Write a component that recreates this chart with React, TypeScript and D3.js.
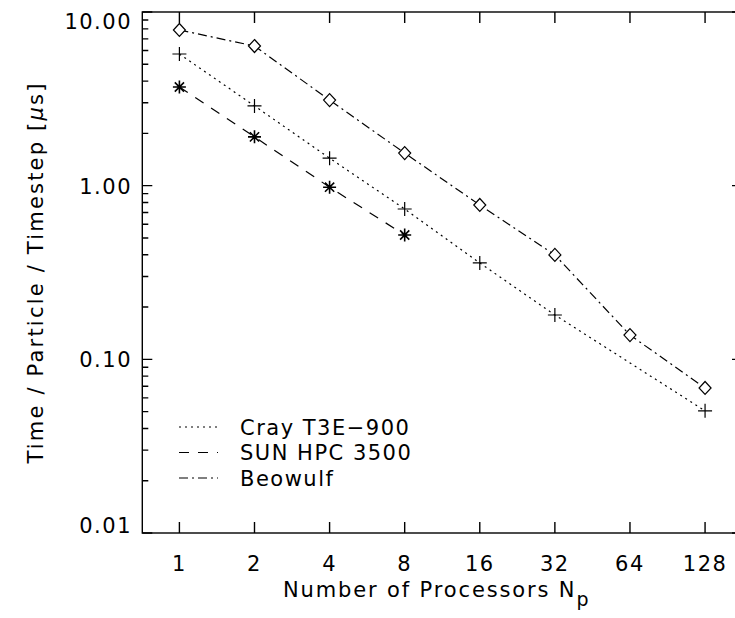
import React from 'react';
import * as d3 from 'd3';

const xTicks = [1, 2, 4, 8, 16, 32, 64, 128];
const yDecades = [0.01, 0.1, 1, 10];
const yLabels = ['0.01', '0.10', '1.00', '10.00'];

const crayNp = [1, 2, 4, 8, 16, 32, 128];
const crayTime = [5.73, 2.88, 1.44, 0.734, 0.359, 0.18, 0.0505];
const sunNp = [1, 2, 4, 8];
const sunTime = [3.7, 1.91, 0.98, 0.52];
const beoNp = [1, 2, 4, 8, 16, 32, 64, 128];
const beoTime = [7.88, 6.37, 3.11, 1.54, 0.774, 0.399, 0.138, 0.0684];

const legendNames = ['Cray T3E\u2212900', 'SUN HPC 3500', 'Beowulf'];
const dashes = ['2,4', '10,9', '9,4,2,4'];

const W = 735;
const H = 618;
const font = '"DejaVu Sans", sans-serif';

const App = () => {
  const x = d3.scaleLog().base(2).domain([0.71, 180]).range([142.3, 742]);
  const y = d3.scaleLog().domain([0.01, 10]).range([533, 12]);
  const [left, right] = x.range();
  const [bottom, top] = y.range();

  const line = d3.line<[number, number]>()
    .x(d => x(d[0]))
    .y(d => y(d[1]));

  const series = [
    { np: crayNp, t: crayTime, dash: dashes[0], mark: 'plus' },
    { np: sunNp, t: sunTime, dash: dashes[1], mark: 'star' },
    { np: beoNp, t: beoTime, dash: dashes[2], mark: 'diamond' },
  ];

  const minor = y.ticks().filter(v => !yDecades.some(d => Math.abs(v / d - 1) < 1e-6));

  const marker = (type, cx, cy, k) => {
    if (type === 'plus') {
      return <path key={k} d={`M${cx - 7},${cy}H${cx + 7}M${cx},${cy - 7}V${cy + 7}`} />;
    }
    if (type === 'star') {
      const r = 6.5;
      const q = 4.6;
      return (
        <path
          key={k}
          strokeWidth={1.6}
          d={`M${cx - r},${cy}H${cx + r}M${cx},${cy - r}V${cy + r}M${cx - q},${cy - q}L${cx + q},${cy + q}M${cx - q},${cy + q}L${cx + q},${cy - q}`}
        />
      );
    }
    return <path key={k} d={`M${cx},${cy - 6.5}L${cx + 6},${cy}L${cx},${cy + 6.5}L${cx - 6},${cy}Z`} fill="white" />;
  };

  return (
    <svg width={W} height={H} style={{ position: 'absolute', left: 0, top: 0, background: 'white' }}>
      <g fill="none" stroke="black" strokeWidth={1.4}>
        <rect x={left} y={top} width={right - left} height={bottom - top} />
        {xTicks.map(t => (
          <path key={t} d={`M${x(t)},${bottom}v-11M${x(t)},${top}v11`} />
        ))}
        {yDecades.map(t => (
          <path key={t} d={`M${left},${y(t)}h10M${right},${y(t)}h-10`} />
        ))}
        {minor.map((t, i) => (
          <path key={i} d={`M${left},${y(t)}h6M${right},${y(t)}h-6`} />
        ))}
      </g>

      <g fill="none" stroke="black" strokeWidth={1.2}>
        {series.map((s, i) => (
          <path key={i} d={line(s.np.map((n, j) => [n, s.t[j]]))} strokeDasharray={s.dash} />
        ))}
        {series.map((s, i) => s.np.map((n, j) => marker(s.mark, x(n), y(s.t[j]), `${i}-${j}`)))}
      </g>

      <g fontFamily={font} fontSize={21} fill="black" letterSpacing={1.5}>
        {xTicks.map(t => (
          <text key={t} x={x(t)} y={571} textAnchor="middle">{t}</text>
        ))}
        {yDecades.map((t, i) => {
          let dy = 8;
          if (i === 0) dy = -0.5;
          if (i === yDecades.length - 1) dy = 16.5;
          return (
            <text key={t} x={132} y={y(t) + dy} textAnchor="end">{yLabels[i]}</text>
          );
        })}
        <text x={283} y={597} textLength={307} lengthAdjust="spacing">
          Number of Processors N<tspan dy={9} fontSize={19}>p</tspan>
        </text>
        <text transform={`translate(43,${(top + bottom) / 2 + 0}) rotate(-90)`} textAnchor="middle" letterSpacing={2.2}>
          {'Time / Particle / Timestep ['}<tspan fontStyle="italic">{'\u03bc'}</tspan>{'s]'}
        </text>
      </g>

      <g>
        {legendNames.map((name, i) => (
          <g key={name} transform={`translate(0,${427 + i * 25.5})`}>
            <path d="M179,0H218" stroke="black" strokeWidth={1.2} strokeDasharray={dashes[i]} />
            <text x={240} y={7.5} fontFamily={font} fontSize={21} letterSpacing={1.5}>{name}</text>
          </g>
        ))}
      </g>
    </svg>
  );
};

export default App;
